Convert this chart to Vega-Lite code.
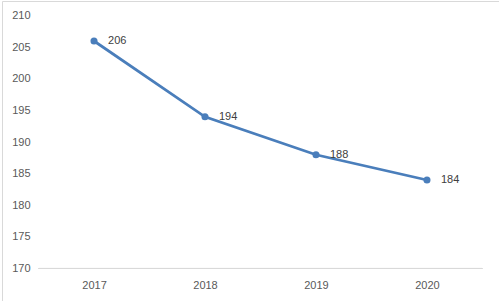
{
  "$schema": "https://vega.github.io/schema/vega-lite/v6.json",
  "autosize": "none",
  "padding": {"left": 2, "top": 1, "right": 0, "bottom": 0},
  "width": 499,
  "height": 300,
  "background": "white",
  "config": {
    "view": {"stroke": "#d9d9d9", "strokeWidth": 1},
    "font": "Liberation Sans",
    "axis": {"labelOverlap": false, "labelBound": false, "labelFlush": false}
  },
  "data": {
    "values": [
      {"year": 2017, "value": 206},
      {"year": 2018, "value": 194},
      {"year": 2019, "value": 188},
      {"year": 2020, "value": 184}
    ]
  },
  "encoding": {
    "x": {
      "field": "year",
      "type": "quantitative",
      "scale": {"domain": [2016.171, 2020.667], "nice": false, "zero": false},
      "axis": {
        "title": null,
        "values": [2017, 2018, 2019, 2020],
        "format": "d",
        "domain": false,
        "ticks": false,
        "tickSize": 0,
        "grid": false,
        "labelPadding": 0,
        "labelOverlap": false,
        "offset": -22,
        "labelFontSize": 11,
        "labelColor": "#595959",
        "labelFont": "Liberation Sans"
      }
    },
    "y": {
      "field": "value",
      "type": "quantitative",
      "scale": {"domain": [164.85, 212.33], "nice": false, "zero": false},
      "axis": {
        "title": null,
        "values": [170, 175, 180, 185, 190, 195, 200, 205, 210],
        "domain": false,
        "ticks": false,
        "tickSize": 0,
        "grid": false,
        "labelPadding": 0,
        "labelOverlap": false,
        "offset": -28,
        "labelFontSize": 11,
        "labelColor": "#595959",
        "labelFont": "Liberation Sans"
      }
    }
  },
  "layer": [
    {
      "mark": {"type": "line", "color": "#4a7ebb", "strokeWidth": 2.75, "point": {"filled": true, "size": 50, "color": "#4a7ebb"}}
    },
    {
      "mark": {"type": "text", "align": "left", "baseline": "middle", "dx": 14, "fontSize": 11, "color": "#404040", "font": "Liberation Sans"},
      "encoding": {
        "text": {"field": "value", "type": "quantitative"}
      }
    },
    {
      "mark": {"type": "rule", "color": "#d9d9d9", "strokeWidth": 1},
      "encoding": {
        "x": {"datum": 2016.5, "type": "quantitative"},
        "x2": {"datum": 2020.5},
        "y": {"datum": 170, "type": "quantitative"}
      }
    }
  ]
}
